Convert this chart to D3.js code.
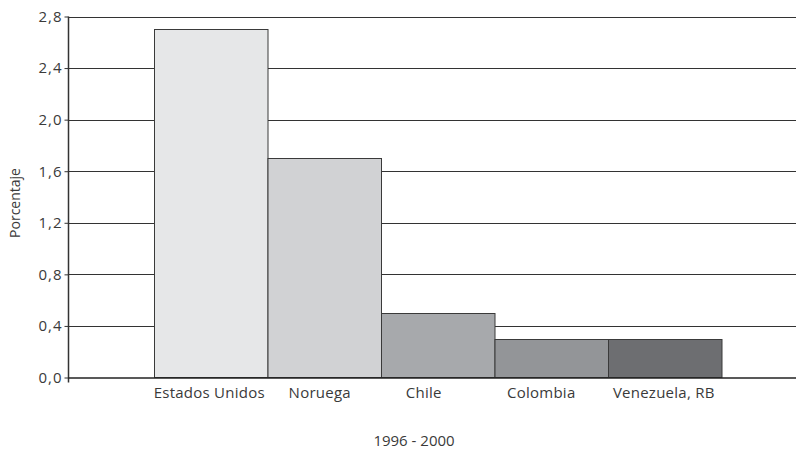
<!DOCTYPE html>
<html><head><meta charset="utf-8">
<script src="https://cdn.jsdelivr.net/npm/d3@7"></script>
<style>body{margin:0;background:#fff}</style>
</head><body><svg id="c" width="797" height="452"></svg>
<script>
const categories = ["Estados Unidos","Noruega","Chile","Colombia","Venezuela, RB"];
const values = [2.7, 1.7, 0.5, 0.3, 0.3];
const colors = ["#e6e7e8","#d1d2d4","#a7a9ac","#939598","#6d6e71"];
const yTicks = [0,0.4,0.8,1.2,1.6,2.0,2.4,2.8];
const xTitle = "1996 - 2000";
const yTitle = "Porcentaje";

const svg = d3.select("#c");
const mLeft = 68.5, mRight = 796, mTop = 16.5, mBottom = 377.5;
const y = d3.scaleLinear().domain([0,2.8]).range([mBottom, mTop]);
const x = d3.scaleBand().domain(categories).range([154, 721.5]).padding(0);
const font = "'Open Sans', 'Liberation Sans', Arial, sans-serif";
const textCol = "#3a3a3a";
const fmt = d => d3.format(".1f")(d).replace(".", ",");
// small horizontal nudges of the category labels, as in the original layout
const labelNudge = [-1.5, -4.5, -14, -10, -1];

// gridlines
svg.append("g").selectAll("line").data(yTicks.filter(d=>d>0)).join("line")
  .attr("x1", mLeft).attr("x2", mRight)
  .attr("y1", d=>Math.round(y(d))+0.5).attr("y2", d=>Math.round(y(d))+0.5)
  .attr("stroke", "#333").attr("stroke-width", 1);

// bars
svg.append("g").selectAll("rect").data(values).join("rect")
  .attr("x", (d,i)=>x(categories[i])+0.5)
  .attr("y", d=>Math.round(y(d))+0.5)
  .attr("width", x.bandwidth())
  .attr("height", d=>mBottom - Math.round(y(d)) - 0.5)
  .attr("fill", (d,i)=>colors[i])
  .attr("stroke", "#3a3a3a").attr("stroke-width", 1);

// y axis
const ya = svg.append("g").attr("transform", `translate(${mLeft},0)`)
  .call(d3.axisLeft(y).tickValues(yTicks).tickFormat(fmt).tickSize(4).tickPadding(2));
ya.select(".domain").remove();
ya.selectAll(".tick line").attr("stroke", "#333");
ya.selectAll("text").attr("font-family", font).attr("font-size", 15)
  .attr("letter-spacing", 1).attr("fill", textCol);
svg.append("line").attr("x1", mLeft).attr("x2", mLeft).attr("y1", mTop).attr("y2", mBottom+5)
  .attr("stroke", "#333").attr("stroke-width", 1.5);

// x axis
svg.append("line").attr("x1", mLeft).attr("x2", mRight).attr("y1", mBottom+0.5).attr("y2", mBottom+0.5)
  .attr("stroke", "#222").attr("stroke-width", 1.5);
const xa = svg.append("g").attr("transform", `translate(0,${mBottom})`)
  .call(d3.axisBottom(x).tickSize(0).tickPadding(10));
xa.select(".domain").remove();
xa.selectAll("text").attr("font-family", font).attr("font-size", 15)
  .attr("letter-spacing", 0.25).attr("fill", textCol)
  .attr("dx", (d,i)=>labelNudge[i]);

// titles
svg.append("text").attr("x", 414).attr("y", 446).attr("text-anchor", "middle")
  .attr("font-family", font).attr("font-size", 15).attr("fill", textCol).text(xTitle);
svg.append("text").attr("transform", "translate(20,203) rotate(-90)").attr("text-anchor", "middle")
  .attr("font-family", font).attr("font-size", 14).attr("fill", textCol).text(yTitle);
</script></body></html>
